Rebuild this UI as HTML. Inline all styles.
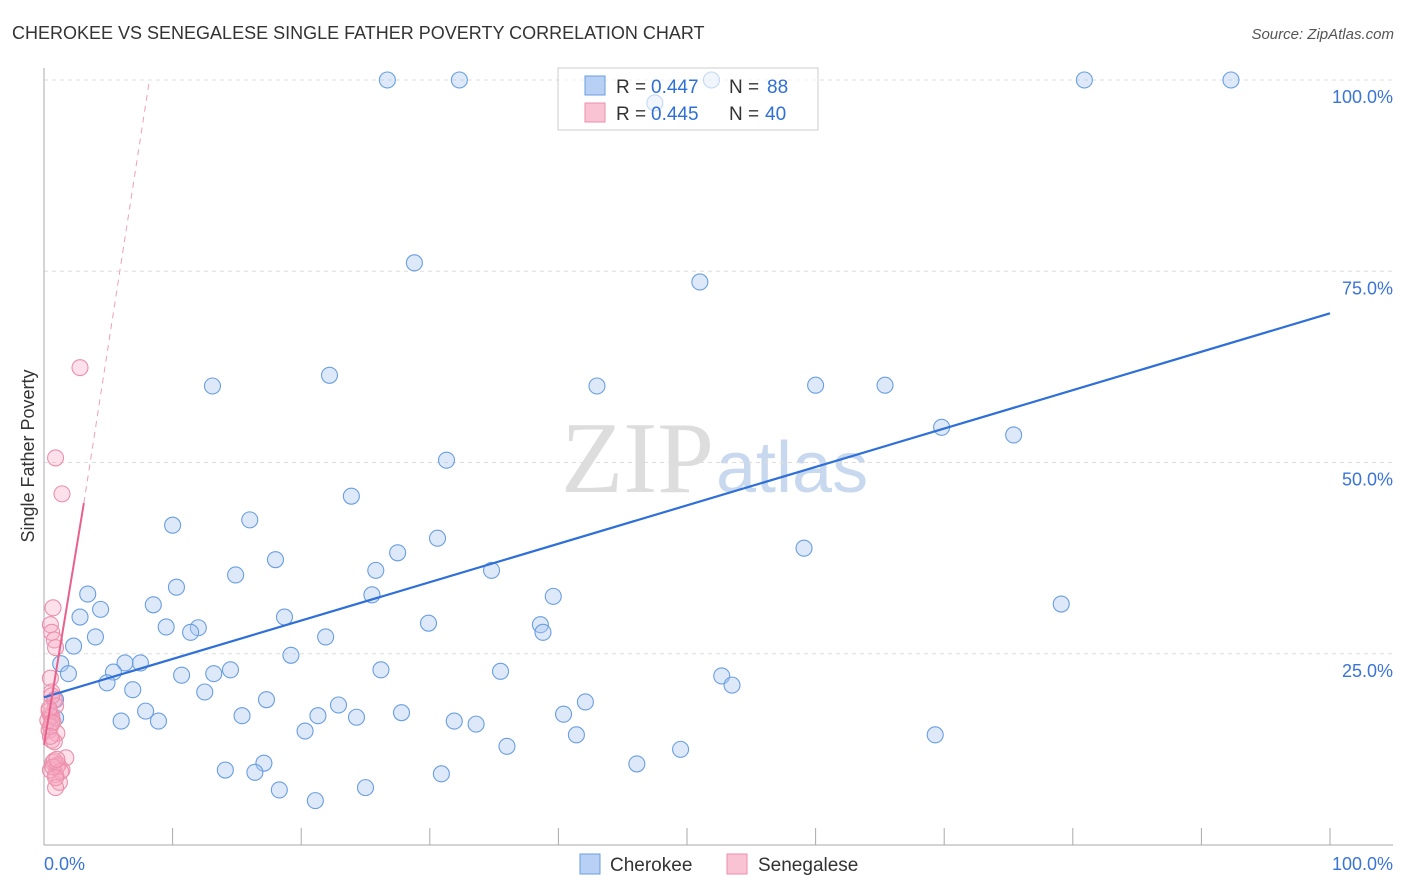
<!DOCTYPE html>
<html><head><meta charset="utf-8"><style>
body{margin:0;background:#fff;font-family:"Liberation Sans",sans-serif;}
svg{display:block}
</style></head><body>
<svg id="c" width="1406" height="892">
<text x="12" y="39" font-size="18" fill="#333">CHEROKEE VS SENEGALESE SINGLE FATHER POVERTY CORRELATION CHART</text>
<text x="1394" y="39" font-size="15" fill="#555" font-style="italic" text-anchor="end">Source: ZipAtlas.com</text>
<text x="714" y="492" font-size="102" fill="#ddd" text-anchor="end" font-family="Liberation Serif">ZIP</text>
<text x="716" y="492" font-size="72" fill="#c8d8ef">atlas</text>
<text transform="translate(34,456) rotate(-90)" font-size="18" fill="#333" text-anchor="middle">Single Father Poverty</text>
<g id="grid"></g><g id="marks"></g>
<g>
<rect x="558" y="68" width="260" height="62" fill="rgba(255,255,255,0.6)" stroke="#ccc"/>
<rect x="585" y="76" width="20" height="19" fill="#b7d0f3" stroke="#6a9ee0"/>
<rect x="585" y="103" width="20" height="19" fill="#f9c3d3" stroke="#ec8fab"/>
<text x="616" y="93" font-size="19" fill="#333">R =</text><text x="651" y="93" font-size="19" fill="#2e6fd8">0.447</text>
<text x="729" y="93" font-size="19" fill="#333">N =</text><text x="767" y="93" font-size="19" fill="#2e6fd8">88</text>
<text x="616" y="120" font-size="19" fill="#333">R =</text><text x="651" y="120" font-size="19" fill="#2e6fd8">0.445</text>
<text x="729" y="120" font-size="19" fill="#333">N =</text><text x="765" y="120" font-size="19" fill="#2e6fd8">40</text>
</g>
<g>
<rect x="580" y="854" width="20" height="20" fill="#b7d0f3" stroke="#6a9ee0"/>
<text x="610" y="871" font-size="19" fill="#333">Cherokee</text>
<rect x="727" y="854" width="20" height="20" fill="#f9c3d3" stroke="#ec8fab"/>
<text x="758" y="871" font-size="19" fill="#333">Senegalese</text>
</g>
</svg>
<script>
const blueX=[26.7,32.3,51.9,80.9,92.3,47.5,28.8,51.0,13.1,22.2,43.0,60.0,65.4,69.8,75.4,31.3,23.9,10.0,16.0,30.6,27.5,18.0,59.1,14.9,25.8,34.8,10.3,3.4,8.5,25.5,4.4,39.6,2.8,18.7,79.1,29.9,9.5,12.0,11.4,38.6,38.8,4.0,21.9,2.3,1.3,19.2,6.3,7.5,5.4,1.9,10.7,13.2,14.5,26.2,35.5,52.7,53.5,4.9,6.9,12.5,17.3,0.9,22.9,42.1,7.9,15.4,21.3,24.3,27.8,40.4,6.0,8.9,31.9,33.6,0.9,20.3,41.4,69.3,36.0,49.5,17.1,14.1,16.4,46.1,30.9,18.3,25.0,21.1];
const blueY=[100,100,100,100,100,97,76.1,73.6,60,61.4,60,60.1,60.1,54.6,53.6,50.3,45.6,41.8,42.5,40.1,38.2,37.3,38.8,35.3,35.9,35.9,33.7,32.8,31.4,32.7,30.8,32.5,29.8,29.8,31.5,29.0,28.5,28.4,27.8,28.8,27.8,27.2,27.2,26.0,23.7,24.8,23.8,23.8,22.6,22.4,22.2,22.4,22.9,22.9,22.7,22.1,20.9,21.2,20.3,20.0,19.0,19.0,18.3,18.7,17.5,16.9,16.9,16.7,17.3,17.1,16.2,16.2,16.2,15.8,16.6,14.9,14.4,14.4,12.9,12.5,10.7,9.8,9.5,10.6,9.3,7.2,7.5,5.8];
const pinkX=[2.8,0.9,1.4,0.7,0.5,0.6,0.8,0.9,0.5,0.6,0.8,0.5,0.7,0.4,1.0,0.6,1.7,0.7,1.0,1.4,0.5,0.9,1.2,0.9,0.3,0.9,0.4,0.6,1.1,0.8,0.6,0.5,1.3,0.7,0.4,0.8,1.0,0.6,0.5,0.9];
const pinkY=[62.4,50.6,45.9,31,28.8,27.8,26.8,25.8,21.8,20,19,17,16.1,15,14.6,13.7,11.4,10.8,10.3,9.8,9.8,9.2,8.2,7.5,16.3,18.2,17.5,19.5,10.5,11.0,16.8,15.5,9.6,10.2,17.8,13.5,11.2,16.0,14.2,8.8];
const blueTrend=[[0,19.3],[100,69.5]];
const pinkTrend=[[0,13.1],[3.1,44.7]],pinkDash=[[3.1,44.7],[8.2,100]];
const yTicks=[25,50,75,100];
const xp=v=>44+v*12.86, yp=v=>845-v*7.65;
const NS="http://www.w3.org/2000/svg";
function mk(t,a,p){const e=document.createElementNS(NS,t);for(const k in a)e.setAttribute(k,a[k]);p.appendChild(e);return e;}
const g=document.getElementById('grid'),m=document.getElementById('marks');
yTicks.forEach(t=>{
 const l=mk('line',{x1:44,x2:1393,y1:yp(t),y2:yp(t),stroke:'#ddd','stroke-dasharray':'4,4'},g);
 
 
 const tx=mk('text',{x:1393,y:yp(t)+23,'font-size':18,fill:'#3a74d6','text-anchor':'end'},g);
 tx.textContent=t.toFixed(1)+'%';
 
 
});
mk('line',{x1:44,x2:44,y1:68,y2:845,stroke:'#aaa'},g);
mk('line',{x1:44,x2:1393,y1:845,y2:845,stroke:'#aaa'},g);
for(let i=1;i<=10;i++){const t=mk('line',{x1:xp(i*10),x2:xp(i*10),y1:828,y2:845,stroke:'#aaa'},g);
 
 }
let a=mk('text',{x:44,y:870,'font-size':18,fill:'#3a74d6'},g);a.textContent='0.0%';


a=mk('text',{x:1393,y:870,'font-size':18,fill:'#3a74d6','text-anchor':'end'},g);a.textContent='100.0%';


blueX.forEach((x,i)=>{const c=mk('circle',{cx:xp(x),cy:yp(blueY[i]),r:8,fill:'rgba(170,200,240,0.4)',stroke:'#6a9ee0','stroke-width':1.1},m);
 
 });
pinkX.forEach((x,i)=>{const c=mk('circle',{cx:xp(x),cy:yp(pinkY[i]),r:8,fill:'rgba(245,170,195,0.35)',stroke:'#ec8fab','stroke-width':1.1},m);
 
 });
let l=mk('line',{x1:xp(blueTrend[0][0]),y1:yp(blueTrend[0][1]),x2:xp(blueTrend[1][0]),y2:yp(blueTrend[1][1]),stroke:'#2e6fd8','stroke-width':2.2},m);


l=mk('line',{x1:xp(pinkTrend[0][0]),y1:yp(pinkTrend[0][1]),x2:xp(pinkTrend[1][0]),y2:yp(pinkTrend[1][1]),stroke:'#e8618c','stroke-width':2},m);


l=mk('line',{x1:xp(pinkDash[0][0]),y1:yp(pinkDash[0][1]),x2:xp(pinkDash[1][0]),y2:yp(pinkDash[1][1]),stroke:'#eea0b8','stroke-width':1,'stroke-dasharray':'6,5'},m);


</script>
</body></html>
